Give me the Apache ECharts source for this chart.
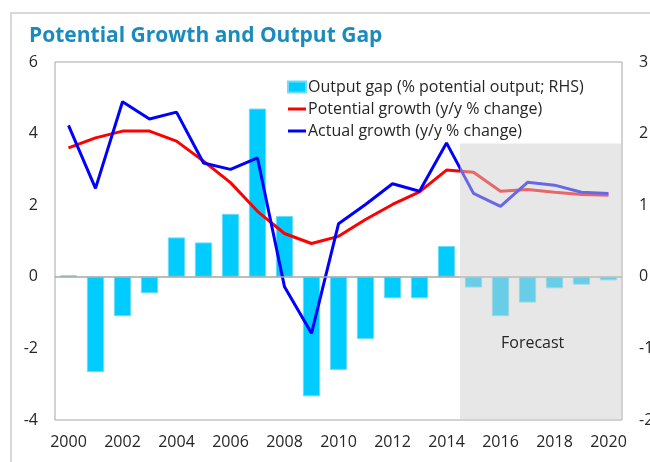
<!DOCTYPE html>
<html>
<head>
<meta charset="utf-8">
<script src="https://cdn.jsdelivr.net/npm/echarts@6/dist/echarts.min.js"></script>
<style>
  html, body { margin: 0; padding: 0; background: #fff; }
  #chart { width: 650px; height: 462px; }
</style>
</head>
<body>
<div id="chart"></div>
<script>
// years
const years = ['2000', '2001', '2002', '2003', '2004', '2005', '2006', '2007', '2008', '2009', '2010',
  '2011', '2012', '2013', '2014', '2015', '2016', '2017', '2018', '2019', '2020']
// output gap, % of potential output (RHS)
const outputGap = [0.02, -1.33, -0.55, -0.23, 0.55, 0.48, 0.88, 2.35, 0.85, -1.67, -1.3,
  -0.87, -0.3, -0.3, 0.43, -0.15, -0.55, -0.36, -0.16, -0.11, -0.05]
// potential growth, y/y %
const potentialGrowth = [3.6, 3.88, 4.07, 4.07, 3.79, 3.23, 2.63, 1.83, 1.21, 0.93, 1.13,
  1.6, 2.02, 2.37, 2.98, 2.92, 2.39, 2.44, 2.36, 2.3, 2.28]
// actual growth, y/y %
const actualGrowth = [4.23, 2.47, 4.89, 4.41, 4.6, 3.18, 3.0, 3.32, -0.28, -1.58, 1.48,
  2.02, 2.6, 2.39, 3.74, 2.33, 1.97, 2.64, 2.56, 2.36, 2.33]
// forecast period (year span) and shading top on left axis
const forecastSpan = [2014.5, 2020.5]
const forecastTop = 3.72

const chart = echarts.init(document.getElementById('chart'))

const font = '"Open Sans", "Noto Sans", sans-serif'
const lineIcon = 'path://M0,0H18V3H0Z'

let option = {
  animation: false,
  textStyle: { fontFamily: font },
  title: {
    text: 'Potential Growth and Output Gap',
    left: 24,
    top: 21,
    textStyle: {
      fontFamily: font,
      fontSize: 21,
      fontWeight: 'bold',
      color: '#1b8bbd'
    }
  },
  graphic: [
    {
      // outer panel frame
      type: 'rect',
      shape: { x: 11, y: 13, width: 700, height: 500 },
      style: { fill: 'none', stroke: '#d9d9d9', lineWidth: 2 },
      silent: true
    },
    {
      type: 'text',
      left: 501,
      top: 335,
      z: 20,
      style: { text: 'Forecast', fontSize: 16, fontFamily: font, fill: '#262626' }
    }
  ],
  legend: {
    orient: 'vertical',
    left: 287,
    top: 79,
    padding: 0,
    itemGap: 6,
    itemWidth: 18,
    itemHeight: 11,
    textStyle: { fontSize: 16, color: '#262626', padding: [0, 0, 0, -3] },
    data: [
      { name: 'Output gap (% potential output; RHS)', icon: 'rect' },
      { name: 'Potential growth (y/y % change)', icon: lineIcon },
      { name: 'Actual growth (y/y % change)', icon: lineIcon }
    ]
  },
  grid: {
    left: 55,
    right: 28,
    top: 62,
    bottom: 42,
    outerBoundsMode: 'none',
    containLabel: false,
    show: true,
    borderColor: '#a6a6a6',
    borderWidth: 1
  },
  xAxis: [
    {
      type: 'category',
      data: years,
      boundaryGap: true,
      axisLine: { show: false },
      axisTick: { show: false },
      axisLabel: { interval: 1, fontSize: 16, color: '#262626', margin: 14 }
    },
    {
      // helper axis for the forecast shading
      type: 'value',
      min: 1999.5,
      max: 2020.5,
      show: false
    }
  ],
  yAxis: [
    {
      type: 'value',
      min: -4,
      max: 6,
      interval: 2,
      splitLine: { show: false },
      axisLine: { show: false },
      axisTick: { show: false },
      axisLabel: { fontSize: 16, color: '#262626', margin: 17 }
    },
    {
      type: 'value',
      min: -2,
      max: 3,
      interval: 1,
      splitLine: { show: false },
      axisLine: { show: false },
      axisTick: { show: false },
      axisLabel: { fontSize: 16, color: '#262626', margin: 17 }
    }
  ],
  series: [
    {
      name: 'Output gap (% potential output; RHS)',
      type: 'bar',
      yAxisIndex: 1,
      barCategoryGap: '36%',
      itemStyle: { color: '#00ccff', borderColor: '#6fdcf7', borderWidth: 1 },
      markLine: {
        silent: true,
        symbol: 'none',
        label: { show: false },
        lineStyle: { color: '#a6a6a6', width: 1.5, type: 'solid' },
        data: [{ yAxis: 0 }]
      },
      data: outputGap
    },
    {
      name: 'Potential growth (y/y % change)',
      type: 'line',
      symbol: 'none',
      z: 3,
      lineStyle: { color: '#ff0000', width: 3 },
      itemStyle: { color: '#ff0000' },
      data: potentialGrowth
    },
    {
      name: 'Actual growth (y/y % change)',
      type: 'line',
      symbol: 'none',
      z: 4,
      lineStyle: { color: '#0000ff', width: 3 },
      itemStyle: { color: '#0000ff' },
      data: actualGrowth
    },
    {
      name: 'forecast',
      type: 'line',
      xAxisIndex: 1,
      yAxisIndex: 0,
      data: [],
      markArea: {
        silent: true,
        z: 10,
        itemStyle: { color: 'rgba(208,208,208,0.5)' },
        data: [[
          { xAxis: forecastSpan[0], yAxis: forecastTop },
          { xAxis: forecastSpan[1], yAxis: -4 }
        ]]
      }
    }
  ]
}

chart.setOption(option, true)
</script>
</body>
</html>
